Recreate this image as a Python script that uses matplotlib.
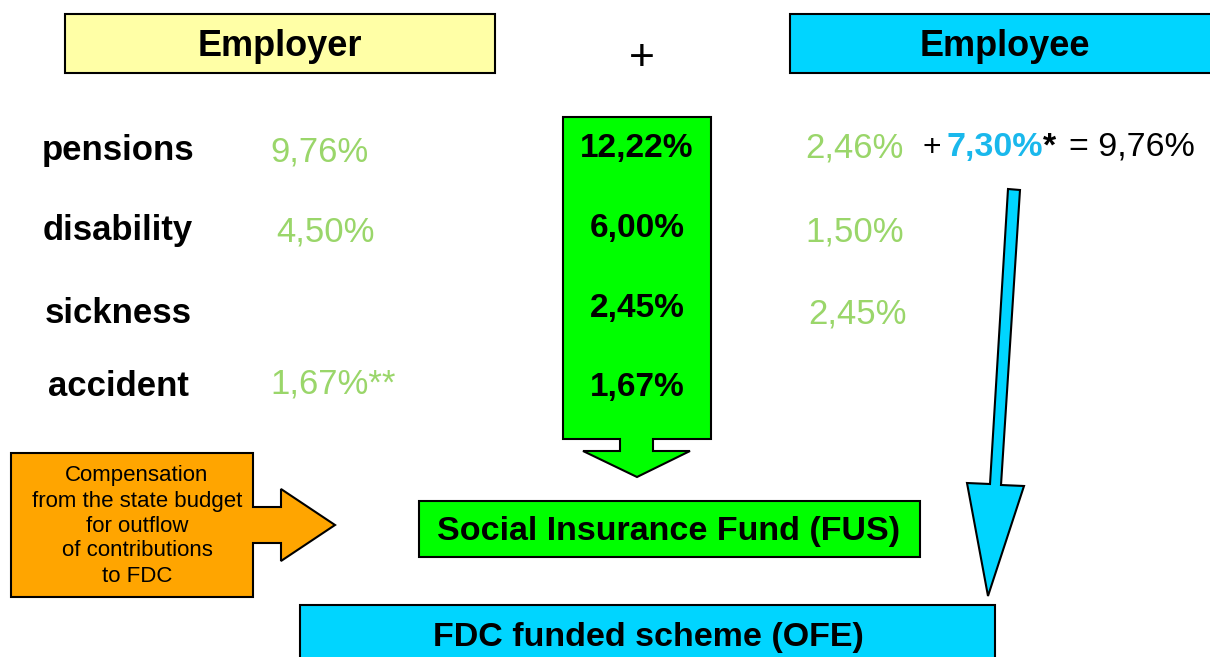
import matplotlib
matplotlib.use("Agg")
import matplotlib.pyplot as plt
from matplotlib.patches import Rectangle, Polygon

plt.rcParams['font.family'] = ['Liberation Sans', 'DejaVu Sans']

# ---- data ----
categories = ["pensions", "disability", "sickness", "accident"]
employer_vals = ["9,76%", "4,50%", "", "1,67%**"]
total_vals = ["12,22%", "6,00%", "2,45%", "1,67%"]
employee_vals = ["2,46%", "1,50%", "2,45%", ""]
employee_extra = ["+", "7,30%", "*", "= 9,76%"]
header_left = "Employer"
header_right = "Employee"
fund_fus = "Social Insurance Fund (FUS)"
fund_ofe = "FDC funded scheme (OFE)"
compensation = "Compensation\nfrom the state budget\nfor outflow\nof contributions\nto FDC"

# ---- layout / style ----
W, H = 1210, 657
GREEN_TXT = "#9ad66a"
YELLOW = "#ffffa6"
CYAN = "#00d5ff"
LIME = "#00ff00"
ORANGE = "#ffa500"
BLUE_TXT = "#1ab8ec"

fig = plt.figure(figsize=(W / 100, H / 100), dpi=100)
ax = fig.add_axes([0, 0, 1, 1])
ax.set_xlim(0, W)
ax.set_ylim(H, 0)
ax.axis("off")

# header boxes
ax.add_patch(Rectangle((65, 14), 430, 59, facecolor=YELLOW, edgecolor="black", lw=1.5))
ax.text(280, 56, header_left, ha="center", va="baseline", fontsize=26, fontweight="bold")
ax.add_patch(Rectangle((790, 14), 440, 59, facecolor=CYAN, edgecolor="black", lw=1.5))
ax.text(1005, 56, header_right, ha="center", va="baseline", fontsize=26, fontweight="bold")
ax.text(642, 58, "+", ha="center", va="center", fontsize=32)

# green big arrow
green_arrow = [(563, 117), (711, 117), (711, 439), (653, 439), (653, 451), (690, 451),
               (637, 477), (583, 451), (620, 451), (620, 439), (563, 439)]
ax.add_patch(Polygon(green_arrow, closed=True, facecolor=LIME, edgecolor="black", lw=1.5))

row_base = [160, 240, 323, 396]
emp_base = [161, 242, 0, 394]
tot_base = [157, 237, 317, 396]
emp_x = [270, 276, 270, 270]
ee_x = [805, 805, 808, 805]
ee_base = [157, 242, 324, 0]
for i, cat in enumerate(categories):
    ax.text(118, row_base[i], cat, ha="center", va="baseline", fontsize=25, fontweight="bold")
    if employer_vals[i]:
        ax.text(emp_x[i], emp_base[i], employer_vals[i], ha="left", va="baseline",
                fontsize=25, color=GREEN_TXT)
    ax.text(637, tot_base[i], total_vals[i], ha="center", va="baseline", fontsize=24,
            fontweight="bold")
    if employee_vals[i]:
        ax.text(ee_x[i], ee_base[i], employee_vals[i], ha="left", va="baseline",
                fontsize=25, color=GREEN_TXT)

# employee pensions addition
ax.text(923, 156, employee_extra[0], ha="left", va="baseline", fontsize=23)
ax.text(946, 156, employee_extra[1], ha="left", va="baseline", fontsize=24.5,
        fontweight="bold", color=BLUE_TXT)
ax.text(1043, 156, employee_extra[2], ha="left", va="baseline", fontsize=24.5, fontweight="bold")
ax.text(1069, 156, employee_extra[3], ha="left", va="baseline", fontsize=24.5)

# blue slanted arrow
blue_arrow = [(1008, 189), (1020, 190), (1001, 485), (1024, 486), (988, 596),
              (967, 483), (990, 484)]
ax.add_patch(Polygon(blue_arrow, closed=True, facecolor=CYAN, edgecolor="black", lw=1.5))

# orange compensation arrow
orange_arrow = [(11, 453), (253, 453), (253, 507), (281, 507), (281, 489), (335, 525),
                (281, 561), (281, 543), (253, 543), (253, 597), (11, 597)]
ax.add_patch(Polygon(orange_arrow, closed=True, facecolor=ORANGE, edgecolor="black", lw=1.5))
ax.text(137, 526, compensation, ha="center", va="center", fontsize=16, linespacing=1.25)

# fund boxes
ax.add_patch(Rectangle((419, 501), 501, 56, facecolor=LIME, edgecolor="black", lw=1.5))
ax.text(669, 540, fund_fus, ha="center", va="baseline", fontsize=24.5, fontweight="bold")
ax.add_patch(Rectangle((300, 605), 695, 70, facecolor=CYAN, edgecolor="black", lw=1.5))
ax.text(648, 646, fund_ofe, ha="center", va="baseline", fontsize=24.5, fontweight="bold")

fig.savefig("out.png", dpi=100)
